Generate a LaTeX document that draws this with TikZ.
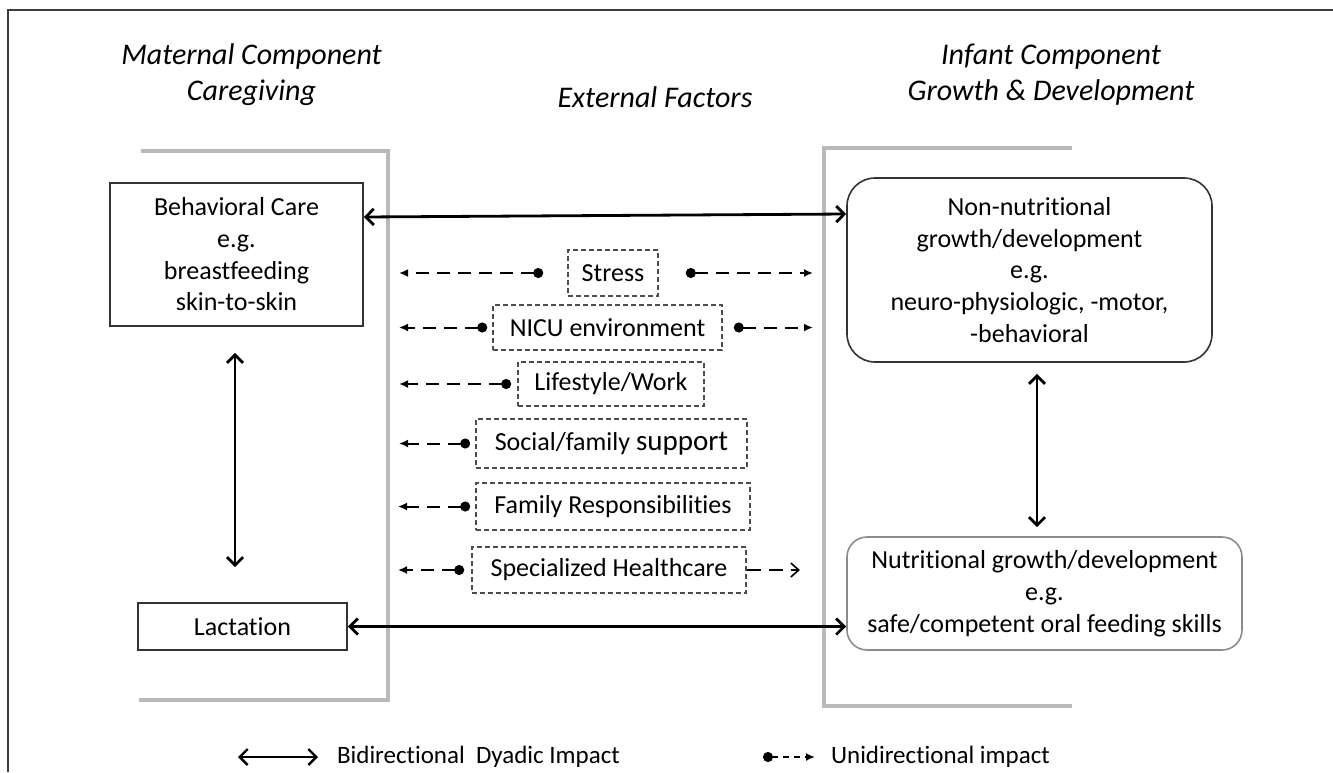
\documentclass[tikz,border=0pt]{standalone}
\usepackage{fontspec}
\setmainfont{Carlito}[Ligatures=NoCommon]
\usepackage{tikz}
\usetikzlibrary{positioning,arrows.meta,calc}
\usepackage{xcolor}
\definecolor{BracketGray}{RGB}{185,185,185}
\definecolor{FrameGray}{RGB}{60,60,60}
\newcommand{\bodyfont}{\fontsize{13}{15.85}\selectfont}
\newcommand{\headfont}{\fontsize{15}{18}\selectfont\itshape}

\begin{document}
\begin{tikzpicture}[
    x=0.5pt, y=-0.5pt,
    header/.style={align=center, font=\headfont},
    carebox/.style={rectangle, draw=black!80, line width=0.8pt, inner sep=0pt,
                    align=center, font=\bodyfont},
    infantbox/.style={carebox, rounded corners=14pt},
    factor/.style={rectangle, draw=black!70, line width=0.8pt, dash pattern=on 2.5pt off 1.5pt,
                   inner sep=0pt, align=center, font=\bodyfont},
    bidir/.style={line width=1.4pt, {Straight Barb[length=4pt,width=8pt]}-{Straight Barb[length=4pt,width=8pt]}},
    unidir/.style={line width=1pt, dash pattern=on 6.5pt off 4pt,
                   {Circle[length=5pt]}-{Latex[length=4.5pt,width=4pt]}},
    bracket/.style={draw=BracketGray, line width=1.6pt},
]
    \useasboundingbox (0,0) rectangle (1333,772);
    \draw[FrameGray, line width=1pt] (8,772) -- (8,10) -- (1333,10);

    % headers
    \node[header] (mat) at (251.5,75) {Maternal Component\\Caregiving};
    \node[header] (ext) at (655,97) {External Factors};
    \node[header] (inf) at (1051,75) {Infant Component\\Growth \& Development};

    % grey brackets
    \draw[bracket] (141,151) -- (388,151) -- (388,700) -- (139,700);
    \draw[bracket] (1072,148) -- (824,148) -- (824,706) -- (1072,706);

    % maternal side
    \node[carebox, minimum width=126.5pt, minimum height=71.5pt] (bc) at (236.5,254.5)
        {Behavioral Care\\e.g.\\breastfeeding\\skin-to-skin};
    \node[carebox, minimum width=104.5pt, minimum height=23.5pt] (lac) at (242.5,626.5) {Lactation};

    % infant side
    \node[infantbox, minimum width=182.5pt, minimum height=92pt] (nn) at (1029.5,270)
        {Non-nutritional\\growth/development\\e.g.\\neuro-physiologic, -motor,\\-behavioral};
    \node[infantbox, draw=black!45, rounded corners=10pt, minimum width=197.5pt, minimum height=56.5pt] (nut) at (1044.5,593.5)
        {Nutritional growth/development\\e.g.\\safe/competent oral feeding skills};

    % external factors
    \node[factor, minimum width=45pt, minimum height=23pt] (stress) at (613,273) {Stress};
    \node[factor, minimum width=114.5pt, minimum height=22.5pt] (nicu) at (607.5,327.5) {NICU environment};
    \node[factor, minimum width=93pt, minimum height=22pt] (life) at (611,384) {Lifestyle/Work};
    \node[factor, minimum width=135.5pt, minimum height=24.5pt] (soc) at (611.5,443.5)
        {Social/family {\fontsize{14.5}{16}\selectfont support}};
    \node[factor, minimum width=137pt, minimum height=23.5pt] (fam) at (613,506.5) {Family Responsibilities};
    \node[factor, minimum width=137pt, minimum height=23pt] (spec) at (609,570) {Specialized Healthcare};

    \coordinate (sL) at (399,273);
    \coordinate (sR) at (813,273);
    \coordinate (nL) at (399,327.5);
    \coordinate (nR) at (813,327.5);
    \coordinate (lL) at (399,384);
    \coordinate (oL) at (399,443.5);
    \coordinate (fL) at (398,506.5);
    \coordinate (hL) at (398,570);
    \coordinate (hR) at (800,570);

    \draw[unidir] ([xshift=-12pt]stress.west) -- (sL);
    \draw[unidir] ([xshift=13.5pt]stress.east) -- (sR);
    \draw[unidir] ([xshift=-2.5pt]nicu.west) -- (nL);
    \draw[unidir] ([xshift=5.5pt]nicu.east) -- (nR);
    \draw[unidir] ([xshift=-3pt]life.west) -- (lL);
    \draw[unidir] ([xshift=-2.5pt]soc.west) -- (oL);
    \draw[unidir] ([xshift=-2.5pt]fam.west) -- (fL);
    \draw[unidir] ([xshift=-3.5pt]spec.west) -- (hL);
    \draw[line width=0.8pt, dash pattern=on 7pt off 4pt, -{Straight Barb[length=4pt,width=7pt]}] (spec.east) -- (hR);

    % dyadic links
    \draw[bidir] ([yshift=18.75pt]bc.east) -- ([yshift=28pt]nn.west);
    \draw[bidir] (lac.east) -- (lac.east -| nut.west);
    \coordinate (lv) at ([xshift=-0.75pt]bc.south);
    \draw[bidir, shorten <=13pt, shorten >=17.5pt] (lv) -- (lv |- lac.north);
    \coordinate (rv) at ([xshift=3.75pt]nn.south);
    \draw[bidir, shorten <=5.5pt, shorten >=4.5pt] (rv) -- (rv |- nut.north);

    % legend
    \coordinate (k1) at (238,757);
    \coordinate (k2) at (318,757);
    \node[anchor=west, font=\fontsize{12.5}{15}\selectfont] (kb) at (330,757) {Bidirectional\ \ Dyadic Impact};
    \draw[bidir, line width=1.2pt] (k1) -- (k2);
    \coordinate (k3) at (768,757);
    \coordinate (k4) at (815,757);
    \node[anchor=west, font=\fontsize{12.5}{15}\selectfont] (ku) at (824,757) {Unidirectional impact};
    \draw[line width=1pt, dash pattern=on 3pt off 2.5pt, {Circle[length=5pt]}-{Latex[length=4.5pt,width=4pt]}] ([xshift=-2.5pt]k3) -- (k4);
\end{tikzpicture}
\end{document}
